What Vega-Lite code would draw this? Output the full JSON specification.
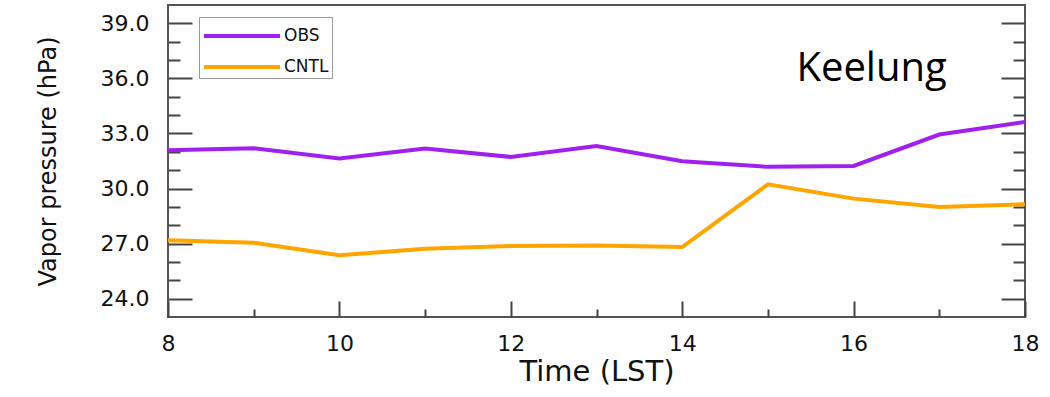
{
  "$schema": "https://vega.github.io/schema/vega-lite/v6.json",
  "width": 857,
  "height": 312,
  "autosize": {"type": "none"},
  "padding": {"left": 168, "top": 5, "right": 25, "bottom": 80},
  "background": "white",
  "config": {
    "view": {"stroke": "#555555", "strokeWidth": 2},
    "font": "DejaVu Sans"
  },
  "datasets": {
    "vapor": [
      {"hour": 8, "vp": 32.09, "series": "OBS"},
      {"hour": 9, "vp": 32.2, "series": "OBS"},
      {"hour": 10, "vp": 31.64, "series": "OBS"},
      {"hour": 11, "vp": 32.18, "series": "OBS"},
      {"hour": 12, "vp": 31.72, "series": "OBS"},
      {"hour": 13, "vp": 32.31, "series": "OBS"},
      {"hour": 14, "vp": 31.49, "series": "OBS"},
      {"hour": 15, "vp": 31.18, "series": "OBS"},
      {"hour": 16, "vp": 31.23, "series": "OBS"},
      {"hour": 17, "vp": 32.94, "series": "OBS"},
      {"hour": 18, "vp": 33.63, "series": "OBS"},
      {"hour": 8, "vp": 27.18, "series": "CNTL"},
      {"hour": 9, "vp": 27.05, "series": "CNTL"},
      {"hour": 10, "vp": 26.36, "series": "CNTL"},
      {"hour": 11, "vp": 26.72, "series": "CNTL"},
      {"hour": 12, "vp": 26.87, "series": "CNTL"},
      {"hour": 13, "vp": 26.9, "series": "CNTL"},
      {"hour": 14, "vp": 26.81, "series": "CNTL"},
      {"hour": 15, "vp": 30.23, "series": "CNTL"},
      {"hour": 16, "vp": 29.45, "series": "CNTL"},
      {"hour": 17, "vp": 29.0, "series": "CNTL"},
      {"hour": 18, "vp": 29.14, "series": "CNTL"}
    ],
    "station": [
      {"hour": 16.21, "vp": 35.85, "name": "Keelung"}
    ]
  },
  "resolve": {"axis": {"y": "independent"}},
  "layer": [
    {
      "data": {"name": "vapor"},
      "mark": {"type": "line", "strokeWidth": 4, "clip": true},
      "encoding": {
        "x": {
          "field": "hour",
          "type": "quantitative",
          "scale": {"domain": [8, 18], "nice": false, "zero": false},
          "axis": {
            "orient": "bottom",
            "title": "Time (LST)",
            "titleFont": "DejaVu Sans",
            "titleFontSize": 29,
            "titleFontWeight": "normal",
            "titleColor": "#111111",
            "titlePadding": -5,
            "values": [8, 9, 10, 11, 12, 13, 14, 15, 16, 17, 18],
            "tickCount": 50,
            "labelExpr": "datum.value % 2 === 0 ? format(datum.value, 'd') : ''",
            "labelFont": "DejaVu Sans",
            "labelFontSize": 22,
            "labelColor": "#111111",
            "labelPadding": 32,
            "labelFlush": false,
            "labelOverlap": false,
            "domain": false,
            "grid": false,
            "tickColor": "#444444",
            "tickWidth": 2,
            "tickSize": {"condition": {"test": "datum.value % 2 === 0", "value": -16}, "value": -8}
          }
        },
        "y": {
          "field": "vp",
          "type": "quantitative",
          "scale": {"domain": [23, 40], "nice": false, "zero": false},
          "axis": {
            "orient": "left",
            "title": "Vapor pressure (hPa)",
            "titleFont": "DejaVu Sans",
            "titleFontSize": 24,
            "titleFontWeight": "normal",
            "titleColor": "#111111",
            "titlePadding": 40,
            "values": [24, 25, 26, 27, 28, 29, 30, 31, 32, 33, 34, 35, 36, 37, 38, 39],
            "tickCount": 50,
            "labelExpr": "datum.value % 3 === 0 ? format(datum.value, '.1f') : ''",
            "labelFont": "DejaVu Sans",
            "labelFontSize": 22,
            "labelColor": "#111111",
            "labelPadding": 43,
            "labelFlush": false,
            "labelOverlap": false,
            "domain": false,
            "grid": false,
            "tickColor": "#444444",
            "tickWidth": 2,
            "tickSize": {"condition": {"test": "datum.value % 3 === 0", "value": -24}, "value": -12}
          }
        },
        "color": {
          "field": "series",
          "type": "nominal",
          "sort": ["OBS", "CNTL"],
          "scale": {"domain": ["OBS", "CNTL"], "range": ["#A020F0", "#FFA500"]},
          "legend": {
            "title": null,
            "orient": "none",
            "legendX": 31,
            "legendY": 12,
            "symbolType": "M-1,0H4.43",
            "symbolSize": 784,
            "symbolStrokeWidth": 4,
            "labelFont": "DejaVu Sans",
            "labelFontSize": 17,
            "labelColor": "#111111",
            "labelOffset": 50,
            "strokeColor": "#999999",
            "padding": 3,
            "rowPadding": 7
          }
        }
      }
    },
    {
      "data": {"name": "station"},
      "mark": {"type": "text", "font": "Open Sans", "fontSize": 40, "align": "center", "baseline": "alphabetic", "color": "#000000"},
      "encoding": {
        "x": {"field": "hour", "type": "quantitative"},
        "y": {
          "field": "vp",
          "type": "quantitative",
          "axis": {
            "orient": "right",
            "title": null,
            "labels": false,
            "domain": false,
            "grid": false,
            "values": [24, 25, 26, 27, 28, 29, 30, 31, 32, 33, 34, 35, 36, 37, 38, 39],
            "tickCount": 50,
            "tickColor": "#444444",
            "tickWidth": 2,
            "tickSize": {"condition": {"test": "datum.value % 3 === 0", "value": -24}, "value": -12}
          }
        },
        "text": {"field": "name"}
      }
    }
  ]
}
